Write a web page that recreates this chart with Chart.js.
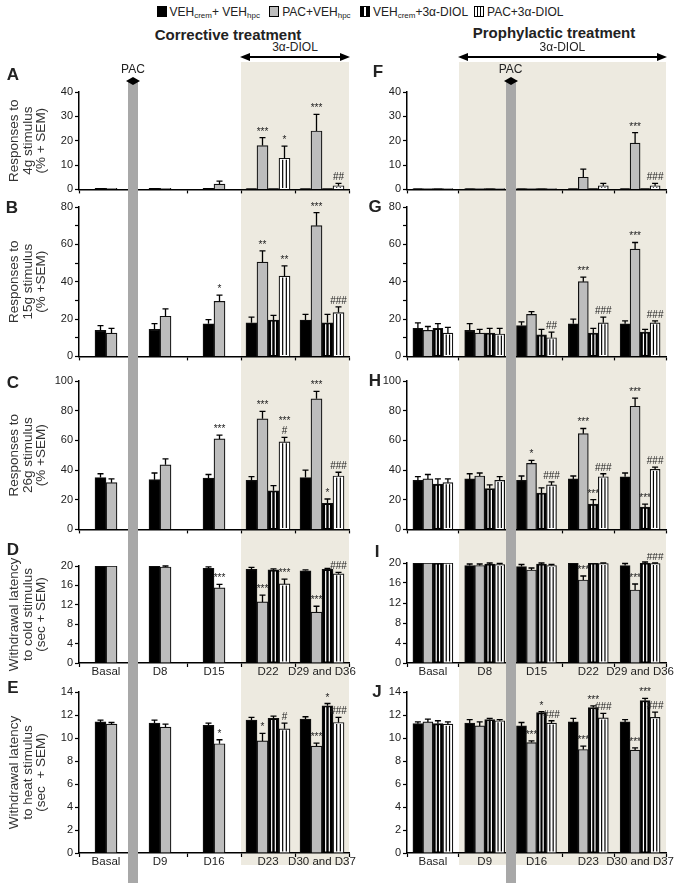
<!DOCTYPE html>
<html>
<head>
<meta charset="utf-8">
<script src="https://cdn.jsdelivr.net/npm/chart.js@4.4.1/dist/chart.umd.min.js"></script>
<style>
body { margin: 0; background: #fff; font-family: "Liberation Sans", Arial, sans-serif; color: #222; }
#fig { position: relative; width: 683px; height: 888px; overflow: hidden; }
#fig canvas { position: absolute; z-index: 1; }
.shade { position: absolute; background: #edeae0; z-index: 0; }
.pac { position: absolute; background: #a8a8a8; z-index: 3; }
.line { position: absolute; background: #000; z-index: 3; }
.tri { position: absolute; width: 0; height: 0; z-index: 3; border-top: 4px solid transparent; border-bottom: 4px solid transparent; }
.lbl { position: absolute; font-size: 12px; line-height: 14px; text-align: center; z-index: 4; white-space: nowrap; }
.letter { position: absolute; width: 16px; text-align: center; font-weight: bold; font-size: 17px; line-height: 20px; z-index: 4; }
.head { position: absolute; font-weight: bold; font-size: 15px; line-height: 18px; text-align: center; white-space: nowrap; }
#legend { position: absolute; left: 0; width: 714px; top: 4px; text-align: center; font-size: 12px; line-height: 16px; white-space: nowrap; }
#legend sub { font-size: 8px; vertical-align: -2px; }
.sw { display: inline-block; width: 8px; height: 9px; border: 1px solid #000; margin: 0 3px 0 6px; vertical-align: -1px; }
.s1 { background: #000; }
.s2 { background: #bdbdbd; }
.s3 { background: linear-gradient(90deg, #000 38%, #fff 38%, #fff 62%, #000 62%); }
.s4 { background: linear-gradient(90deg, #fff 28%, #000 28%, #000 40%, #fff 40%, #fff 60%, #000 60%, #000 72%, #fff 72%); }
</style>
</head>
<body>
<div id="fig">
  <div id="legend"><span class="sw s1"></span>VEH<sub>crem</sub>+ VEH<sub>hpc</sub> <span class="sw s2"></span>PAC+VEH<sub>hpc</sub> <span class="sw s3"></span>VEH<sub>crem</sub>+3α-DIOL<span class="sw s4"></span>PAC+3α-DIOL</div>
  <div class="head" style="left:128px;width:200px;top:26px">Corrective treatment</div>
  <div class="head" style="left:454px;width:200px;top:24px">Prophylactic treatment</div>
</div>
<script>
// categories
var groupsMech = ['Basal', 'D8', 'D15', 'D22', 'D29 and D36'];
var groupsHeat = ['Basal', 'D9', 'D16', 'D23', 'D30 and D37'];
var seriesNames = ['VEHcrem+VEHhpc', 'PAC+VEHhpc', 'VEHcrem+3α-DIOL', 'PAC+3α-DIOL'];

// y axis titles
var titleA = ['Responses to', '4g stimulus', '(% + SEM)'];
var titleB = ['Responses to', '15g stimulus', '(% +SEM)'];
var titleC = ['Responses to', '26g stimulus', '(% +SEM)'];
var titleD = ['Withdrawal latency', 'to cold stimulus', '(sec + SEM)'];
var titleE = ['Withdrawal latency', 'to heat stimulus', '(sec  + SEM)'];

// A: 4g, corrective  (rows = series, cols = groups)
var meanA = [[0.4, 0.4, 0.4, 0.3, 0.3], [0.4, 0.4, 2.2, 18, 24], [null, null, null, 0.3, 0.3], [null, null, null, 12.8, 1.5]];
var semA = [[0, 0, 0, 0, 0], [0, 0, 1.2, 3.3, 6.8], [null, null, null, 0, 0], [null, null, null, 5, 1]];
var starsA = [['', '', '', '', ''], ['', '', '', '***', '***'], ['', '', '', '', ''], ['', '', '', '*', '##']];

// F: 4g, prophylactic
var meanF = [[0.3, 0.3, 0.3, 0.3, 0.3], [0.3, 0.3, 0.3, 5, 19], [0.3, 0.3, 0.3, 0.3, 0.3], [0.3, 0.3, 0.3, 1.5, 1.5]];
var semF = [[0, 0, 0, 0, 0], [0, 0, 0, 3.3, 4.3], [0, 0, 0, 0, 0], [0, 0, 0, 1, 1]];
var starsF = [['', '', '', '', ''], ['', '', '', '', '***'], ['', '', '', '', ''], ['', '', '', '', '###']];

// B: 15g, corrective
var meanB = [[14, 14.5, 17.5, 18, 19.5], [12.5, 21.5, 29.5, 50.5, 70], [null, null, null, 19.5, 18], [null, null, null, 43, 23.5]];
var semB = [[2.5, 3, 2.2, 3, 3], [2.5, 4, 3.3, 6, 7], [null, null, null, 2.5, 4.5], [null, null, null, 5.5, 3]];
var starsB = [['', '', '', '', ''], ['', '', '*', '**', '***'], ['', '', '', '', ''], ['', '', '', '**', '###']];

// G: 15g, prophylactic
var meanG = [[15, 14, 16.5, 17.5, 17.5], [14, 12.5, 22.5, 40, 57.5], [15, 12.5, 11.5, 12.5, 13], [12.5, 12, 10, 18, 18]];
var semG = [[3, 3.5, 2, 2.5, 1.5], [2, 2, 1.5, 2.5, 3.5], [2.5, 2.5, 3, 2.5, 1.5], [3, 3, 3, 3, 1]];
var starsG = [['', '', '', '', ''], ['', '', '', '***', '***'], ['', '', '', '', ''], ['', '', '##', '###', '###']];

// C: 26g, corrective
var meanC = [[35, 33.5, 34.5, 33, 35], [31.5, 43.5, 61, 74.5, 88], [null, null, null, 26, 17.5], [null, null, null, 59, 36]];
var semC = [[2.5, 4.5, 2.5, 2.5, 5], [2.5, 4, 2.5, 5, 5], [null, null, null, 3.5, 3], [null, null, null, 3, 2.5]];
var starsC = [['', '', '', '', ''], ['', '', '***', '***', '***'], ['', '', '', '', '*'], ['', '', '', '***\n#', '###']];

// H: 26g, prophylactic
var meanH = [[33, 34, 33, 34, 35.5], [34, 36, 44.5, 64.5, 83], [30.5, 27.5, 24.5, 17, 15], [31.5, 33, 30, 35.5, 40.5]];
var semH = [[2.5, 3.5, 3, 2, 2.5], [3, 2, 2, 3.5, 5.5], [3.5, 2.5, 3.5, 3, 2], [2.5, 2.5, 2, 2, 1.5]];
var starsH = [['', '', '', '', ''], ['', '', '*', '***', '***'], ['', '', '', '***', '***'], ['', '', '###', '###', '###']];

// D: cold, corrective
var meanD = [[20, 20, 19.5, 19.3, 19], [20, 19.8, 15.5, 12.6, 10.5], [null, null, null, 19.2, 19.3], [null, null, null, 16.3, 18.4]];
var semD = [[0, 0, 0.3, 0.4, 0.2], [0, 0.2, 0.7, 1.4, 1.2], [null, null, null, 0.2, 0.2], [null, null, null, 1, 0.3]];
var starsD = [['', '', '', '', ''], ['', '', '***', '***', '***'], ['', '', '', '', ''], ['', '', '', '***', '###']];

// I: cold, prophylactic
var meanI = [[20, 19.5, 19.3, 20, 19.5], [20, 19.5, 18.6, 16.6, 14.6], [20, 19.8, 19.8, 20, 20], [20, 19.7, 19.5, 19.9, 19.9]];
var semI = [[0, 0.3, 0.4, 0, 0.4], [0, 0.3, 0.4, 0.8, 1.2], [0, 0.2, 0.2, 0, 0.2], [0, 0.2, 0.2, 0.1, 0.1]];
var starsI = [['', '', '', '', ''], ['', '', '', '***', '***'], ['', '', '', '', ''], ['', '', '', '', '###']];

// E: heat, corrective
var meanE = [[11.4, 11.3, 11.1, 11.55, 11.65], [11.2, 10.95, 9.5, 9.75, 9.3], [null, null, null, 11.7, 12.8], [null, null, null, 10.8, 11.35]];
var semE = [[0.15, 0.25, 0.2, 0.25, 0.2], [0.15, 0.25, 0.35, 0.65, 0.25], [null, null, null, 0.2, 0.2], [null, null, null, 0.5, 0.45]];
var starsE = [['', '', '', '', ''], ['', '', '*', '*', '***'], ['', '', '', '', '*'], ['', '', '', '#', '###']];

// J: heat, prophylactic
var meanJ = [[11.25, 11.3, 11.05, 11.4, 11.4], [11.4, 11.05, 9.6, 9.0, 8.95], [11.25, 11.6, 12.2, 12.65, 13.25], [11.2, 11.5, 11.3, 11.75, 11.8]];
var semJ = [[0.15, 0.3, 0.3, 0.3, 0.2], [0.25, 0.35, 0.15, 0.3, 0.2], [0.25, 0.1, 0.1, 0.15, 0.2], [0.2, 0.1, 0.2, 0.4, 0.45]];
var starsJ = [['', '', '', '', ''], ['', '', '***', '***', '***'], ['', '', '*', '***', '***'], ['', '', '###', '###', '###']];

var seriesFill = ['#000000', '#bdbdbd', '#000000', '#ffffff'];
var seriesStripe = [null, null, '#ffffff', '#000000'];

Chart.defaults.font.family = '"Liberation Sans", Arial, sans-serif';
Chart.defaults.color = '#222';

var fig = document.getElementById('fig');
var COLS = [
    {left: 4, width: 385, yWidth: 75, padRight: 40, bar: 11},
    {left: 372, width: 311, yWidth: 35, padRight: 17, bar: 10}
];
var PAD_TOP = 10;

var panels = [
    {key: 'A', col: 0, top: 92, bottom: 193, max: 40, step: 10, every: 10, cats: groupsMech, showCats: false, mean: meanA, sem: semA, stars: starsA, title: titleA, lx: 5, ly: 65},
    {key: 'B', col: 0, top: 207, bottom: 360, max: 80, step: 10, every: 20, cats: groupsMech, showCats: false, mean: meanB, sem: semB, stars: starsB, title: titleB, lx: 4, ly: 198},
    {key: 'C', col: 0, top: 381, bottom: 533, max: 100, step: 10, every: 10, cats: groupsMech, showCats: false, mean: meanC, sem: semC, stars: starsC, title: titleC, lx: 5, ly: 373},
    {key: 'D', col: 0, top: 566, bottom: 663, max: 20, step: 2, every: 4, cats: groupsMech, showCats: true, mean: meanD, sem: semD, stars: starsD, title: titleD, lx: 5, ly: 540},
    {key: 'E', col: 0, top: 692, bottom: 853, max: 14, step: 2, every: 2, cats: groupsHeat, showCats: true, mean: meanE, sem: semE, stars: starsE, title: titleE, lx: 5, ly: 678},
    {key: 'F', col: 1, top: 92, bottom: 193, max: 40, step: 10, every: 10, cats: groupsMech, showCats: false, mean: meanF, sem: semF, stars: starsF, title: null, lx: 370, ly: 62},
    {key: 'G', col: 1, top: 207, bottom: 360, max: 80, step: 10, every: 20, cats: groupsMech, showCats: false, mean: meanG, sem: semG, stars: starsG, title: null, lx: 367, ly: 197},
    {key: 'H', col: 1, top: 381, bottom: 533, max: 100, step: 10, every: 10, cats: groupsMech, showCats: false, mean: meanH, sem: semH, stars: starsH, title: null, lx: 367, ly: 371},
    {key: 'I', col: 1, top: 563, bottom: 663, max: 20, step: 2, every: 4, cats: groupsMech, showCats: true, mean: meanI, sem: semI, stars: starsI, title: null, lx: 369, ly: 542},
    {key: 'J', col: 1, top: 692, bottom: 853, max: 14, step: 2, every: 2, cats: groupsHeat, showCats: true, mean: meanJ, sem: semJ, stars: starsJ, title: null, lx: 369, ly: 682}
];

// error bars, stripes and significance marks
var barExtras = {
    id: 'barExtras',
    afterDatasetsDraw: function (chart) {
        var ctx = chart.ctx;
        var ys = chart.scales.y;
        chart.data.datasets.forEach(function (ds, di) {
            chart.getDatasetMeta(di).data.forEach(function (bar, i) {
                var v = ds.data[i];
                if (v === null || v === undefined) {
                    return;
                }
                var x = bar.x, top = bar.y, base = bar.base, w = bar.width;
                ctx.save();
                if (ds.stripe && base - top > 3) {
                    ctx.strokeStyle = ds.stripe;
                    ctx.lineWidth = 1.2;
                    [-1, 1].forEach(function (s) {
                        var lx = x + s * w / 6;
                        ctx.beginPath();
                        ctx.moveTo(lx, top + 1.5);
                        ctx.lineTo(lx, base - 1);
                        ctx.stroke();
                    });
                }
                var tip = top;
                var e = ds.sem[i];
                if (e) {
                    var ye = ys.getPixelForValue(v + e);
                    ctx.strokeStyle = '#000';
                    ctx.lineWidth = 1.3;
                    ctx.beginPath();
                    ctx.moveTo(x, top);
                    ctx.lineTo(x, ye);
                    ctx.moveTo(x - 3, ye);
                    ctx.lineTo(x + 3, ye);
                    ctx.stroke();
                    tip = ye;
                }
                var s = ds.stars[i];
                if (s) {
                    ctx.fillStyle = '#222';
                    ctx.font = '10px "Liberation Sans", Arial, sans-serif';
                    ctx.textAlign = 'center';
                    ctx.textBaseline = 'alphabetic';
                    s.split('\n').reverse().forEach(function (line, j) {
                        ctx.fillText(line, x, tip - 3 - j * 10);
                    });
                }
                ctx.restore();
            });
        });
    }
};

function makePanel(p) {
    var c = COLS[p.col];
    var xH = p.showCats ? 22 : 5;
    var cv = document.createElement('canvas');
    cv.width = c.width;
    cv.height = PAD_TOP + (p.bottom - p.top) + xH;
    cv.style.left = c.left + 'px';
    cv.style.top = (p.top - PAD_TOP) + 'px';
    fig.appendChild(cv);

    var letter = document.createElement('div');
    letter.className = 'letter';
    letter.style.left = p.lx + 'px';
    letter.style.top = p.ly + 'px';
    letter.textContent = p.key;
    fig.appendChild(letter);

    var datasets = p.mean.map(function (vals, k) {
        return {
            label: seriesNames[k],
            data: vals,
            sem: p.sem[k],
            stars: p.stars[k],
            stripe: seriesStripe[k],
            backgroundColor: seriesFill[k],
            borderColor: '#111',
            borderWidth: 1.2,
            skipNull: true,
            barThickness: c.bar
        };
    });

    return new Chart(cv, {
        type: 'bar',
        data: {labels: p.cats, datasets: datasets},
        options: {
            responsive: false,
            maintainAspectRatio: false,
            animation: false,
            layout: {padding: {top: PAD_TOP, right: c.padRight, bottom: 0, left: 0}},
            plugins: {legend: {display: false}, tooltip: {enabled: false}},
            scales: {
                x: {
                    offset: true,
                    border: {display: true, color: '#000', width: 1.5},
                    grid: {display: true, offset: true, drawOnChartArea: false, drawTicks: true, tickLength: 4, tickColor: '#000', tickWidth: 1.2},
                    ticks: {display: p.showCats, padding: -2, color: '#222', font: {size: 11.5}, maxRotation: 0, autoSkip: false},
                    afterFit: function (s) { s.height = xH; }
                },
                y: {
                    min: 0,
                    max: p.max,
                    border: {display: true, color: '#000', width: 1.5},
                    grid: {display: true, drawOnChartArea: false, drawTicks: true, tickLength: 4, tickColor: '#000', tickWidth: 1.2},
                    ticks: {
                        stepSize: p.step,
                        padding: 2,
                        color: '#222',
                        font: {size: 11},
                        callback: function (value) {
                            return value % p.every === 0 ? value : '';
                        }
                    },
                    title: {
                        display: !!p.title,
                        text: p.title || '',
                        color: '#333',
                        font: {size: 13.5, lineHeight: 1.0},
                        padding: {top: 4, bottom: 0}
                    },
                    afterFit: function (s) { s.width = c.yWidth; }
                }
            }
        },
        plugins: [barExtras]
    });
}

var charts = panels.map(makePanel);

function addDiv(cls, left, top, width, height, text) {
    var d = document.createElement('div');
    d.className = cls;
    d.style.left = left + 'px';
    d.style.top = top + 'px';
    if (width !== null) d.style.width = width + 'px';
    if (height !== null) d.style.height = height + 'px';
    if (text) d.textContent = text;
    fig.appendChild(d);
    return d;
}

function catEdge(chart, col, i) {
    var xs = chart.scales.x;
    return COLS[col].left + xs.left + (xs.right - xs.left) * i / xs.ticks.length;
}

// treatment timing: 3α-DIOL starts at category index, PAC given at category edge
var marks = [
    {col: 0, chart: charts[0], diolFrom: 3, pacAt: 1},
    {col: 1, chart: charts[5], diolFrom: 1, pacAt: 2}
];

marks.forEach(function (m) {
    var x1 = catEdge(m.chart, m.col, m.diolFrom);
    var x2 = catEdge(m.chart, m.col, 5);
    var px = catEdge(m.chart, m.col, m.pacAt);

    addDiv('shade', x1, 62, x2 - x1, 803, null);

    addDiv('line', x1 + 2, 56, x2 - x1 - 4, 2, null);
    var l = addDiv('tri', x1 - 1, 53, null, null, null);
    l.style.borderRight = '10px solid #000';
    var r = addDiv('tri', x2 - 9, 53, null, null, null);
    r.style.borderLeft = '10px solid #000';
    addDiv('lbl', (x1 + x2) / 2 - 40, 40, 80, null, '3α-DIOL');

    addDiv('pac', px - 5, 80, 10, 803, null);
    var pl = addDiv('tri', px - 7, 77, null, null, null);
    pl.style.borderRight = '7px solid #000';
    var pr = addDiv('tri', px, 77, null, null, null);
    pr.style.borderLeft = '7px solid #000';
    addDiv('lbl', px - 20, 62, 40, null, 'PAC');
});
</script>
</body>
</html>
